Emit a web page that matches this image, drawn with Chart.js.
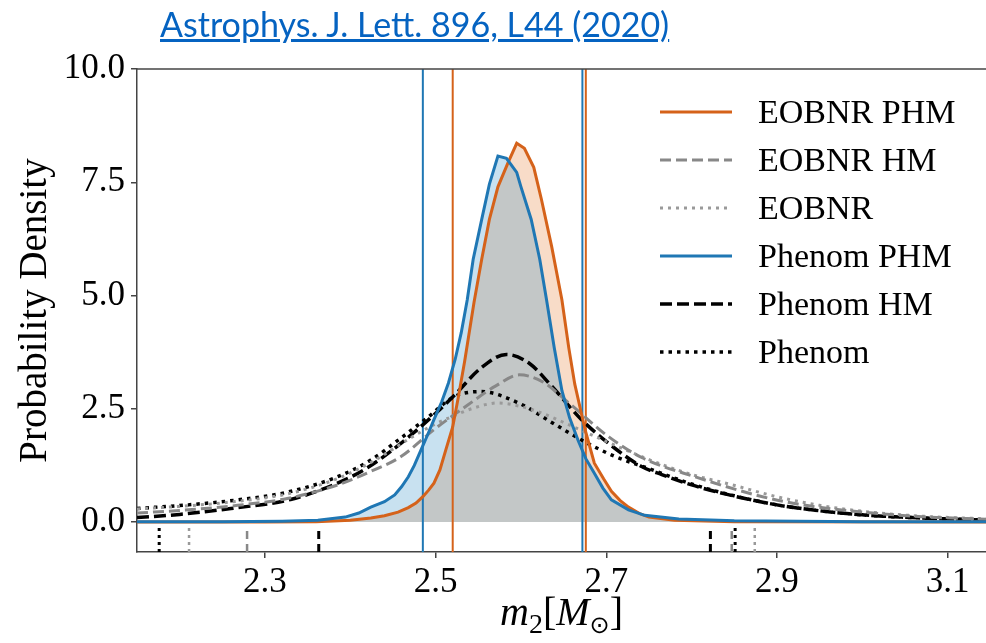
<!DOCTYPE html>
<html>
<head>
<meta charset="utf-8">
<script src="https://cdn.jsdelivr.net/npm/chart.js@4.4.1/dist/chart.umd.min.js"></script>
<style>
  html, body { margin: 0; padding: 0; background: #fff; }
  #wrap { position: relative; width: 986px; height: 643px; overflow: hidden; }
  #ref { position: absolute; left: 160px; top: 3px; font: 34px Lato, sans-serif; color: #0563c1; text-decoration: underline; z-index: 2; }
  canvas { position: absolute; left: 0; top: 0; }
</style>
</head>
<body>
<div id="wrap">
  <a id="ref" href="#">Astrophys. J. Lett. 896, L44 (2020)</a>
  <canvas id="m2chart" width="986" height="643"></canvas>
</div>
<script>
// m2 posterior densities
const eobPhmX = [2.15, 2.30, 2.36, 2.40, 2.424, 2.44, 2.456, 2.468, 2.477, 2.485, 2.492, 2.498, 2.505, 2.512, 2.52, 2.527, 2.534, 2.545, 2.554, 2.563, 2.573, 2.585, 2.595, 2.604, 2.615, 2.624, 2.636, 2.648, 2.656, 2.663, 2.675, 2.686, 2.697, 2.706, 2.716, 2.726, 2.74, 2.75, 2.78, 2.85, 3.15];
const eobPhmY = [0, 0, 0.01, 0.04, 0.09, 0.14, 0.22, 0.32, 0.42, 0.56, 0.71, 0.86, 1.15, 1.6, 2.1, 2.8, 3.55, 4.85, 5.8, 6.68, 7.4, 7.94, 8.36, 8.25, 7.83, 7.12, 6.08, 4.9, 3.85, 3.05, 2.05, 1.3, 0.95, 0.68, 0.48, 0.33, 0.18, 0.11, 0.04, 0.01, 0];

const phenPhmX = [2.15, 2.25, 2.32, 2.362, 2.394, 2.41, 2.424, 2.44, 2.452, 2.46, 2.468, 2.475, 2.483, 2.49, 2.498, 2.507, 2.515, 2.523, 2.53, 2.537, 2.544, 2.554, 2.563, 2.573, 2.583, 2.595, 2.60, 2.612, 2.622, 2.63, 2.639, 2.648, 2.657, 2.667, 2.676, 2.686, 2.696, 2.706, 2.726, 2.745, 2.785, 2.85, 3.0, 3.15];
const phenPhmY = [0.01, 0.01, 0.02, 0.04, 0.11, 0.2, 0.33, 0.45, 0.6, 0.78, 1.0, 1.25, 1.6, 1.9, 2.26, 2.65, 3.07, 3.6, 4.18, 4.9, 5.8, 6.68, 7.46, 8.08, 8.03, 7.72, 7.4, 6.68, 5.8, 4.9, 3.85, 2.9, 2.3, 1.8, 1.4, 1.08, 0.75, 0.49, 0.27, 0.15, 0.07, 0.03, 0.01, 0.01];

const phenHmX = [2.15, 2.20, 2.26, 2.33, 2.385, 2.42, 2.46, 2.50, 2.522, 2.553, 2.583, 2.61, 2.636, 2.671, 2.71, 2.742, 2.765, 2.80, 2.844, 2.90, 2.95, 3.00, 3.07, 3.15];
const phenHmY = [0.1, 0.17, 0.3, 0.5, 0.86, 1.2, 1.75, 2.4, 2.8, 3.4, 3.7, 3.5, 3.0, 2.26, 1.63, 1.22, 1.05, 0.82, 0.6, 0.38, 0.25, 0.16, 0.09, 0.04];

const eobHmX = [2.15, 2.21, 2.268, 2.326, 2.385, 2.424, 2.459, 2.498, 2.538, 2.57, 2.598, 2.625, 2.656, 2.703, 2.742, 2.804, 2.883, 2.93, 3.0, 3.07, 3.15];
const eobHmY = [0.2, 0.27, 0.37, 0.52, 0.82, 1.12, 1.44, 2.04, 2.59, 3.0, 3.25, 3.1, 2.63, 1.88, 1.42, 1.0, 0.56, 0.38, 0.22, 0.12, 0.06];

const phenX = [2.15, 2.21, 2.268, 2.326, 2.385, 2.424, 2.459, 2.49, 2.522, 2.553, 2.597, 2.636, 2.675, 2.71, 2.75, 2.80, 2.85, 2.90, 2.95, 3.00, 3.07, 3.15];
const phenY = [0.3, 0.38, 0.49, 0.66, 1.0, 1.37, 1.85, 2.3, 2.77, 2.88, 2.63, 2.2, 1.77, 1.45, 1.18, 0.84, 0.58, 0.38, 0.25, 0.16, 0.09, 0.04];

const eobX = [2.15, 2.21, 2.268, 2.326, 2.385, 2.43, 2.47, 2.495, 2.518, 2.545, 2.573, 2.6, 2.624, 2.656, 2.70, 2.75, 2.80, 2.844, 2.90, 2.95, 3.00, 3.07, 3.15];
const eobY = [0.29, 0.36, 0.46, 0.62, 0.96, 1.38, 1.85, 2.12, 2.32, 2.52, 2.63, 2.55, 2.41, 2.15, 1.78, 1.38, 1.05, 0.84, 0.56, 0.37, 0.24, 0.13, 0.07];

// 90% interval bounds
const eobPhmBounds = [2.52, 2.676];
const phenPhmBounds = [2.485, 2.672];
const phenHmBounds = [2.363, 2.822];
const eobHmBounds = [2.279, 2.847];
const phenBounds = [2.176, 2.851];
const eobBounds = [2.211, 2.874];

const xTicks = [2.3, 2.5, 2.7, 2.9, 3.1];
const yTicks = [0, 2.5, 5, 7.5, 10];
const xMin = 2.15, xMax = 3.145, yMin = -0.66, yMax = 10;
const rugTop = -0.12;

const ORANGE = '#d5621a', BLUE = '#1f77b4';
const SERIF = "'Liberation Serif', 'DejaVu Serif', serif";

function pts(xs, ys) {
  return xs.map((x, i) => ({ x: x, y: ys[i] }));
}

function curve(label, xs, ys, color, width, dash, order, extra) {
  return Object.assign({
    label: label,
    data: pts(xs, ys),
    borderColor: color,
    borderWidth: width,
    borderDash: dash,
    pointRadius: 0,
    fill: false,
    order: order,
    legend: true
  }, extra || {});
}

function vlines(bounds, color, width, dash, y0, y1) {
  return bounds.map((b) => ({
    data: [{ x: b, y: y0 }, { x: b, y: y1 }],
    borderColor: color,
    borderWidth: width,
    borderDash: dash,
    pointRadius: 0,
    fill: false,
    order: 3
  }));
}

const datasets = [
  curve('EOBNR PHM', eobPhmX, eobPhmY, ORANGE, 3, [], 1, { fill: 'origin', backgroundColor: 'rgb(248,220,200)' }),
  curve('EOBNR HM', eobHmX, eobHmY, '#888888', 3, [11, 5], 2, { cubicInterpolationMode: 'monotone' }),
  curve('EOBNR', eobX, eobY, '#9a9a9a', 3, [3, 5], 2, { cubicInterpolationMode: 'monotone' }),
  curve('Phenom PHM', phenPhmX, phenPhmY, BLUE, 3, [], 0, { fill: 'origin', backgroundColor: 'rgba(35,135,195,0.25)' }),
  curve('Phenom HM', phenHmX, phenHmY, '#000000', 3.5, [12, 5], 2, { cubicInterpolationMode: 'monotone' }),
  curve('Phenom', phenX, phenY, '#000000', 3.5, [3.5, 5], 2, { cubicInterpolationMode: 'monotone' })
].concat(
  vlines(eobPhmBounds, ORANGE, 2, [], yMin, yMax),
  vlines(phenPhmBounds, BLUE, 2, [], yMin, yMax),
  vlines(phenHmBounds, '#000000', 3, [8, 5], yMin, rugTop),
  vlines(eobHmBounds, '#888888', 2.5, [8, 5], yMin, rugTop),
  vlines(phenBounds, '#000000', 3, [3, 4], yMin, rugTop),
  vlines(eobBounds, '#9a9a9a', 2.5, [3, 4], yMin, rugTop)
);

const framePlugin = {
  id: 'frame',
  afterDraw(chart) {
    const ctx = chart.ctx, a = chart.chartArea;
    ctx.save();
    // top spine
    ctx.strokeStyle = '#444';
    ctx.lineWidth = 1.5;
    ctx.beginPath();
    ctx.moveTo(a.left, a.top);
    ctx.lineTo(a.right, a.top);
    ctx.stroke();

    // legend
    let row = 0;
    chart.data.datasets.forEach((ds) => {
      if (!ds.legend) return;
      const y = 112 + row * 48;
      ctx.strokeStyle = ds.borderColor;
      ctx.lineWidth = ds.borderWidth;
      ctx.setLineDash(ds.borderDash || []);
      ctx.beginPath();
      ctx.moveTo(660, y);
      ctx.lineTo(732, y);
      ctx.stroke();
      ctx.setLineDash([]);
      ctx.fillStyle = '#000';
      ctx.font = '34px ' + SERIF;
      ctx.textBaseline = 'middle';
      ctx.textAlign = 'left';
      ctx.fillText(ds.label, 758, y + 2);
      row++;
    });

    // x axis title  m2[M(sun)]
    const cx = (a.left + a.right) / 2 - 20;
    const by = 625;
    ctx.textBaseline = 'alphabetic';
    const parts = [
      ['italic 40px ' + SERIF, 'm', 0],
      ['28px ' + SERIF, '2', 8],
      ['40px ' + SERIF, '[', 0],
      ['italic 40px ' + SERIF, 'M', 0],
      ['24px DejaVu Sans, ' + SERIF, '\u2299', 8],
      ['40px ' + SERIF, ']', 0]
    ];
    let w = 0;
    parts.forEach((p) => { ctx.font = p[0]; w += ctx.measureText(p[1]).width; });
    let x = cx - w / 2 + 20;
    parts.forEach((p) => {
      ctx.font = p[0];
      ctx.fillText(p[1], x, by + p[2]);
      x += ctx.measureText(p[1]).width;
    });
    ctx.restore();
  }
};

new Chart(document.getElementById('m2chart').getContext('2d'), {
  type: 'line',
  data: { datasets: datasets },
  options: {
    responsive: false,
    animation: false,
    devicePixelRatio: 1,
    layout: { padding: { top: 69, right: 0, left: 0, bottom: 0 } },
    plugins: {
      legend: { display: false },
      tooltip: { enabled: false },
      filler: { drawTime: 'beforeDatasetsDraw' }
    },
    scales: {
      x: {
        type: 'linear',
        min: xMin,
        max: xMax,
        afterBuildTicks: (s) => { s.ticks = xTicks.map((v) => ({ value: v })); },
        afterFit: (s) => { s.height = 91; },
        ticks: {
          autoSkip: false,
          maxRotation: 0,
          color: '#000',
          padding: 4,
          font: { family: SERIF, size: 35 },
          callback: (v) => v.toFixed(1)
        },
        grid: { display: true, drawOnChartArea: false, drawTicks: true, tickLength: 6, color: '#444', lineWidth: 1.5 },
        border: { display: true, color: '#444', width: 1.5 }
      },
      y: {
        type: 'linear',
        min: yMin,
        max: yMax,
        afterBuildTicks: (s) => { s.ticks = yTicks.map((v) => ({ value: v })); },
        afterFit: (s) => { s.width = 137; },
        ticks: {
          autoSkip: false,
          color: '#000',
          padding: 6,
          font: { family: SERIF, size: 35 },
          callback: (v) => v.toFixed(1)
        },
        title: {
          display: true,
          text: 'Probability Density',
          color: '#000',
          font: { family: SERIF, size: 39 },
          padding: { top: 12, bottom: 0 }
        },
        grid: { display: true, drawOnChartArea: false, drawTicks: true, tickLength: 6, color: '#444', lineWidth: 1.5 },
        border: { display: true, color: '#444', width: 1.5 }
      }
    }
  },
  plugins: [framePlugin]
});
</script>
</body>
</html>
